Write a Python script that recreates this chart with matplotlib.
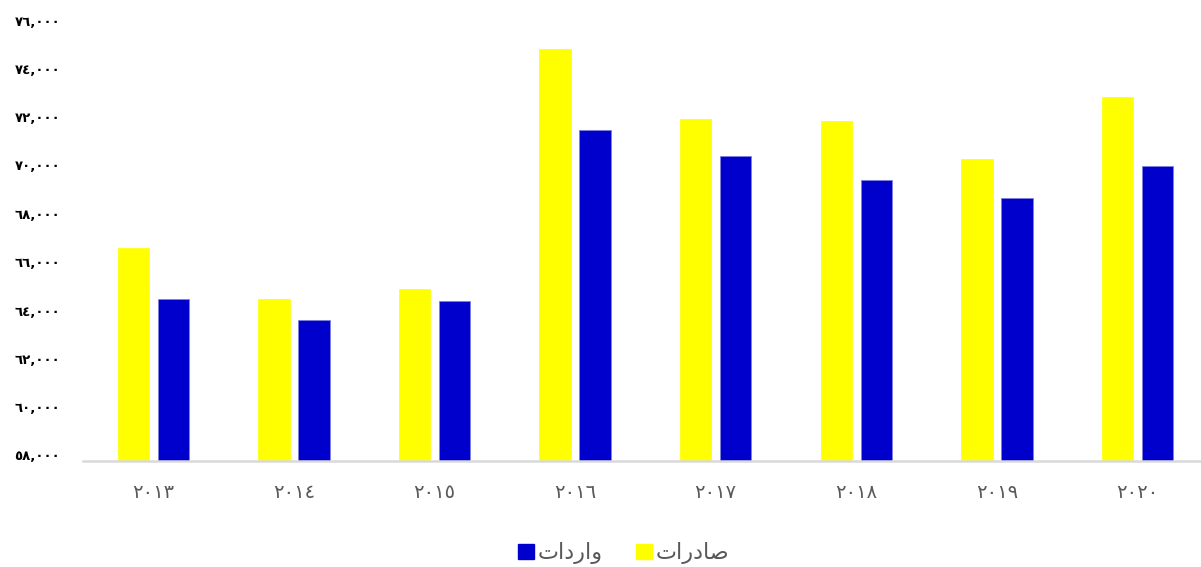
import matplotlib
matplotlib.use("Agg")
import matplotlib.pyplot as plt
import matplotlib.transforms as mtransforms
import numpy as np

years = ["٢٠١٣", "٢٠١٤", "٢٠١٥", "٢٠١٦", "٢٠١٧", "٢٠١٨", "٢٠١٩", "٢٠٢٠"]
exports = [66790, 64680, 65100, 75030, 72130, 72050, 70470, 73050]
imports = [64680, 63810, 64600, 71670, 70600, 69610, 68860, 70170]
yticks = [58000, 60000, 62000, 64000, 66000, 68000, 70000, 72000, 74000, 76000]

# Arabic labels in presentation forms, visual (left-to-right) order
label_exports = "\uFE95\uFE8D\uFEAD\uFEA9\uFE8E\uFEBB"   # صادرات
label_imports = "\uFE95\uFE8D\uFEA9\uFEAD\uFE8D\uFEED"   # واردات

AR_DIGITS = str.maketrans("0123456789", "٠١٢٣٤٥٦٧٨٩")

def ar_num(v):
    return f"{v:,}".translate(AR_DIGITS)

plt.rcParams['font.family'] = ['DejaVu Sans']

W, H = 1201, 567
fig = plt.figure(figsize=(W / 100, H / 100), dpi=100)
left, right = 83, 1200
bottom, top = 460.5, 25.5
ax = fig.add_axes([left / W, (H - bottom) / H, (right - left) / W, (bottom - top) / H])

x = np.arange(len(years))
bw = 0.224
off = 0.142
ax.bar(x - off, exports, width=bw, color="#FFFF00", edgecolor="#FFFF00", linewidth=0.5, zorder=2)
ax.bar(x + off, imports, width=bw, color="#0000CC", edgecolor="#8080E0", linewidth=0.6, zorder=2)

ax.set_ylim(58000, 76000)
cat_px = 140.6
ax.set_xlim(-0.5, -0.5 + (right - left) / cat_px)

ax.set_yticks(yticks)
ax.set_yticklabels([ar_num(v) for v in yticks], fontsize=9.5, fontweight="bold", color="black")
ax.set_xticks(x)
ax.set_xticklabels(years, fontsize=14, color="#595959")
ax.tick_params(axis="both", length=0)
ax.tick_params(axis="y", pad=16.5)
ax.tick_params(axis="x", pad=16)

shift = mtransforms.ScaledTranslation(0, 5 / 100, fig.dpi_scale_trans)
for lbl in ax.get_yticklabels():
    lbl.set_transform(lbl.get_transform() + shift)

for s in ["top", "right", "left"]:
    ax.spines[s].set_visible(False)
ax.spines["bottom"].set_color("#D9D9D9")
ax.spines["bottom"].set_linewidth(1.8)

from matplotlib.patches import Patch
handles = [Patch(facecolor="#0000CC", edgecolor="#0000CC"),
           Patch(facecolor="#FFFF00", edgecolor="#FFFF00")]
leg = fig.legend(handles, [label_imports, label_exports], ncol=2, loc="center",
                 bbox_to_anchor=(624 / W, (H - 553) / H), frameon=False,
                 prop={"size": 16}, handlelength=0.68, handleheight=0.68,
                 handletextpad=0.2, columnspacing=1.5, labelcolor="#595959")

fig.savefig("out.png", dpi=100)
